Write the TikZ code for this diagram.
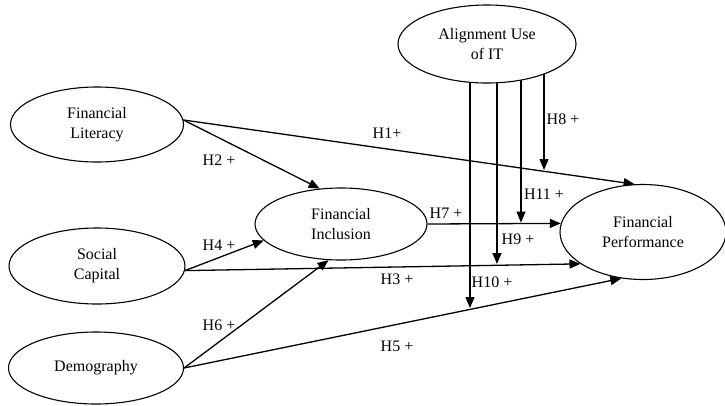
\documentclass[tikz,border=0pt]{standalone}
\usepackage{fontspec}
\setmainfont{Liberation Serif}
\usetikzlibrary{shapes.geometric,arrows.meta,backgrounds}
\begin{document}
\begin{tikzpicture}[x=1pt,y=-1pt,
  var/.style={ellipse,draw,line width=1.1pt,fill=white,inner sep=0pt,align=center,
    font=\fontsize{16}{20}\selectfont},
  conn/.style={line width=1.3pt,-{Triangle[length=11pt,width=9pt]}},
  hlab/.style={font=\fontsize{16}{20}\selectfont,inner sep=0pt}]
\useasboundingbox (0,0) rectangle (725,405);
\node[var,minimum width=178pt,minimum height=78pt] (align) at (487,44) {Alignment Use\\of IT};
\node[var,minimum width=173pt,minimum height=75pt] (lit) at (97,124.5) {Financial\\Literacy};
\node[var,minimum width=176pt,minimum height=76pt] (sc) at (97,266) {Social\\Capital};
\node[var,minimum width=175pt,minimum height=72pt] (demo) at (96,368) {Demography};
\node[var,minimum width=172pt,minimum height=72pt] (fi) at (341,224) {Financial\\Inclusion};
\node[var,minimum width=166pt,minimum height=95pt] (fp) at (643,232) {Financial\\Performance};

\coordinate (h8) at (544,170);
\coordinate (h11) at (521,222.5);
\coordinate (h9) at (497,264);
\coordinate (h10) at (470,308);

\begin{scope}[on background layer]
\draw[conn] (lit.3) -- (fp.100);
\draw[conn] (lit.3) -- (fi.121);
\draw[conn] (sc.-3) -- (fi.192);
\draw[conn] (sc.-3) -- (fp.207);
\draw[conn] (demo.east) -- (fi.251);
\draw[conn] (demo.east) -- (fp.245);
\draw[conn] (fi.east) -- (fp.174);
\draw[conn] (align.center -| h8) -- (h8);
\draw[conn] (align.center -| h11) -- (h11);
\draw[conn] (align.center -| h9) -- (h9);
\draw[conn] (align.center -| h10) -- (h10);
\end{scope}

\node[hlab] (l1) at (387,133) {H1+};
\node[hlab] (l2) at (219,160) {H2 +};
\node[hlab] (l8) at (563,119) {H8 +};
\node[hlab] (l11) at (544,194) {H11 +};
\node[hlab] (l7) at (446,213) {H7 +};
\node[hlab] (l9) at (518,239) {H9 +};
\node[hlab] (l4) at (219,245) {H4 +};
\node[hlab] (l3) at (397,279) {H3 +};
\node[hlab] (l10) at (492,282) {H10 +};
\node[hlab] (l6) at (219,325) {H6 +};
\node[hlab] (l5) at (397,346) {H5 +};
\end{tikzpicture}
\end{document}
